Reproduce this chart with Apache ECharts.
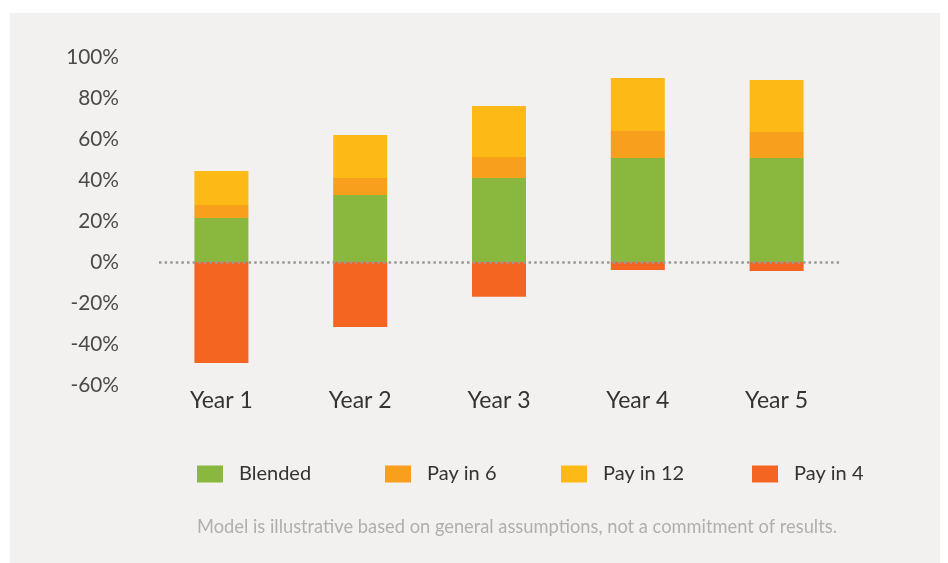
<!DOCTYPE html>
<html>
<head>
<meta charset="utf-8">
<script src="https://cdn.jsdelivr.net/npm/echarts@6/dist/echarts.min.js"></script>
<style>
html,body{margin:0;padding:0;background:#ffffff;}
#panel{position:absolute;left:10px;top:13px;width:930px;height:550px;background:#f2f1ef;}
#chart{position:absolute;left:0;top:0;width:948px;height:563px;}
</style>
</head>
<body>
<div id="panel"></div>
<div id="chart"></div>
<script>
const categories = ['Year 1', 'Year 2', 'Year 3', 'Year 4', 'Year 5'];
const blended = [21.5, 32.7, 41.0, 50.7, 50.7];
const payIn6 = [6.3, 8.3, 10.2, 13.2, 12.7];
const payIn12 = [16.6, 21.0, 24.9, 25.9, 25.4];
const payIn4 = [-49.3, -31.7, -17.0, -3.9, -4.4];
const yTicks = [-60, -40, -20, 0, 20, 40, 60, 80, 100];
const footnote = 'Model is illustrative based on general assumptions, not a commitment of results.';

const FONT = 'Lato';
const chart = echarts.init(document.getElementById('chart'), null, {renderer: 'canvas'});

function legendAt(name, left) {
  return {
    data: [name], left: left, top: 464, padding: 0,
    itemWidth: 26, itemHeight: 17, icon: 'rect',
    selectedMode: false,
    textStyle: {fontFamily: FONT, fontSize: 20, color: '#333333', padding: [0, 0, 0, 11]}
  };
}

function bar(name, data, color) {
  return {
    name: name, type: 'bar', stack: 'total', data: data, barWidth: 54,
    itemStyle: {color: color}, emphasis: {disabled: true}
  };
}

chart.setOption({
  animation: false,
  textStyle: {fontFamily: FONT},
  title: {
    text: footnote, left: 197, top: 518, padding: 0,
    textStyle: {fontFamily: FONT, fontSize: 18.3, fontWeight: 'normal', color: '#b0afad'}
  },
  legend: [
    legendAt('Blended', 197),
    legendAt('Pay in 6', 385),
    legendAt('Pay in 12', 561),
    legendAt('Pay in 4', 752)
  ],
  grid: [
    {left: 152, right: 102, top: 57, bottom: 178},
    {left: 159, right: 108, top: 57, bottom: 178}
  ],
  xAxis: [{
    type: 'category', data: categories, position: 'bottom', gridIndex: 0,
    axisLine: {show: false, onZero: false}, axisTick: {show: false},
    axisLabel: {fontFamily: FONT, fontSize: 23, color: '#333333', margin: 4}
  }, {
    type: 'category', data: categories, gridIndex: 1, show: false
  }],
  yAxis: [{
    type: 'value', min: -60, max: 100, interval: 20, gridIndex: 0,
    splitLine: {show: false}, axisLine: {show: false}, axisTick: {show: false},
    axisLabel: {fontFamily: FONT, fontSize: 20.8, color: '#4a4a4a', margin: 33,
      formatter: v => yTicks.includes(v) ? v + '%' : ''}
  }, {
    type: 'value', min: -60, max: 100, interval: 20, gridIndex: 1, show: false
  }],
  series: [
    bar('Blended', blended, '#8ab73e'),
    bar('Pay in 6', payIn6, '#f99f1e'),
    bar('Pay in 12', payIn12, '#fdba16'),
    bar('Pay in 4', payIn4, '#f46522'),
    {
      name: 'zero', type: 'line', xAxisIndex: 1, yAxisIndex: 1, z: 10,
      data: [null, null, null, null, null], symbol: 'none', silent: true,
      markLine: {
        silent: true, symbol: 'none', z: 10,
        label: {show: false},
        lineStyle: {color: '#999999', width: 2.5, type: [2.5, 3.1]},
        data: [{yAxis: 0}]
      }
    }
  ]
});
</script>
</body>
</html>
